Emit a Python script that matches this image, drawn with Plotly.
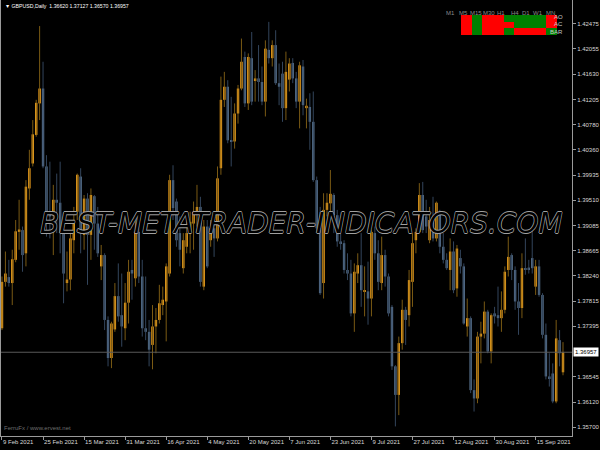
import plotly.graph_objects as go

# ---------------- data (GBPUSD daily) ----------------
open_ = [1.3736,1.3814,1.3822,1.3812,1.3851,1.3898,1.3901,1.3862,1.3971,1.4013,
         1.4061,1.4114,1.4139,1.4008,1.3929,1.3926,1.3952,1.3947,1.3896,1.3812,
         1.3818,1.3884,1.3932,1.3991,1.3893,1.3954,1.3893,1.3958,1.3912,1.3840,
         1.3859,1.3750,1.3686,1.3734,1.3790,1.3758,1.3736,1.3779,1.3834,1.3820,
         1.3898,1.3823,1.3736,1.3730,1.3708,1.3739,1.3750,1.3775,1.3781,1.3828,
         1.3985,1.3949,1.3896,1.3837,1.3873,1.3898,1.3912,1.3932,1.3940,1.3806,
         1.3907,1.3884,1.3904,1.3887,1.4005,1.4120,1.4142,1.4052,1.4050,1.4097,
         1.4139,1.4192,1.4114,1.4190,1.4153,1.4156,1.4150,1.4117,1.4204,1.4190,
         1.4212,1.4148,1.4164,1.4106,1.4154,1.4182,1.4156,1.4117,1.4176,1.4106,
         1.4108,1.4083,1.3985,1.3918,1.3812,1.3935,1.3946,1.3960,1.3926,1.3882,
         1.3879,1.3834,1.3828,1.3761,1.3828,1.3842,1.3798,1.3798,1.3786,1.3896,
         1.3862,1.3812,1.3859,1.3823,1.3772,1.3672,1.3624,1.3711,1.3767,1.3758,
         1.3814,1.3884,1.3898,1.3960,1.3924,1.3884,1.3918,1.3887,1.3932,1.3873,
         1.3851,1.3834,1.3865,1.3803,1.3854,1.3840,1.3739,1.3753,1.3632,1.3618,
         1.3722,1.3727,1.3764,1.3697,1.3761,1.3758,1.3753,1.3767,1.3834,1.3859,
         1.3834,1.3781,1.3770,1.3837,1.3838,1.3854,1.3806,1.3840,1.3792,1.3725,
         1.3655,1.3660,1.3613,1.3716,1.36620]
high = [1.3823,1.3865,1.3851,1.3868,1.3918,1.3952,1.3907,1.3985,1.4036,1.4086,
        1.4120,1.4244,1.4184,1.4027,1.4016,1.3977,1.3996,1.4016,1.3924,1.3865,
        1.3896,1.3940,1.3996,1.4005,1.3960,1.3963,1.3971,1.3960,1.3940,1.3876,
        1.3862,1.3756,1.3747,1.3812,1.3845,1.3828,1.3812,1.3851,1.3851,1.3918,
        1.3918,1.3851,1.3823,1.3750,1.3775,1.3770,1.3809,1.3806,1.3845,1.3994,
        1.4010,1.3954,1.3924,1.3896,1.3929,1.3932,1.3949,1.3977,1.3957,1.3918,
        1.3918,1.3918,1.3915,1.4008,1.4159,1.4167,1.4153,1.4125,1.4114,1.4145,
        1.4223,1.4201,1.4198,1.4234,1.4170,1.4212,1.4176,1.4220,1.4251,1.4220,
        1.4237,1.4181,1.4184,1.4201,1.4190,1.4190,1.4167,1.4184,1.4187,1.4122,
        1.4131,1.4134,1.3991,1.3940,1.3963,1.3963,1.4002,1.3963,1.3935,1.3896,
        1.3884,1.3862,1.3851,1.3845,1.3862,1.3896,1.3840,1.3848,1.3901,1.3907,
        1.3884,1.3890,1.3868,1.3828,1.3775,1.3674,1.3722,1.3784,1.3772,1.3834,
        1.3896,1.3904,1.3980,1.3982,1.3952,1.3940,1.3957,1.3949,1.3935,1.3896,
        1.3862,1.3887,1.3882,1.3876,1.3868,1.3845,1.3786,1.3756,1.3650,1.3730,
        1.3747,1.3781,1.3767,1.3761,1.3772,1.3806,1.3798,1.3840,1.3890,1.3862,
        1.3840,1.3812,1.3862,1.3887,1.3851,1.3904,1.3851,1.3851,1.3795,1.3744,
        1.3694,1.3677,1.3750,1.3733,1.37127]
low = [1.3733,1.3806,1.3806,1.3775,1.3847,1.3868,1.3831,1.3840,1.3952,1.4008,
       1.4058,1.4086,1.4005,1.3890,1.3887,1.3859,1.3896,1.3862,1.3778,1.3798,
       1.3800,1.3862,1.3918,1.3862,1.3868,1.3809,1.3851,1.3868,1.3856,1.3817,
       1.3733,1.3672,1.3669,1.3730,1.3747,1.3705,1.3716,1.3744,1.3784,1.3806,
       1.3812,1.3722,1.3716,1.3672,1.3667,1.3694,1.3744,1.3758,1.3714,1.3823,
       1.3918,1.3873,1.3840,1.3828,1.3862,1.3862,1.3868,1.3907,1.3806,1.3800,
       1.3837,1.3873,1.3856,1.3882,1.3994,1.4108,1.4047,1.4008,1.4038,1.4080,
       1.4136,1.4108,1.4103,1.4111,1.4117,1.4117,1.4111,1.4092,1.4181,1.4176,
       1.4145,1.4111,1.4083,1.4086,1.4134,1.4148,1.4106,1.4072,1.4094,1.4072,
       1.4036,1.3982,1.3896,1.3792,1.3786,1.3924,1.3918,1.3896,1.3873,1.3868,
       1.3828,1.3817,1.3756,1.3730,1.3812,1.3772,1.3756,1.3742,1.3756,1.3851,
       1.3800,1.3800,1.3806,1.3756,1.3666,1.3571,1.3590,1.3700,1.3708,1.3739,
       1.3772,1.3862,1.3896,1.3896,1.3896,1.3879,1.3882,1.3882,1.3862,1.3845,
       1.3834,1.3800,1.3795,1.3789,1.3828,1.3742,1.3722,1.3627,1.3596,1.3610,
       1.3677,1.3719,1.3694,1.3677,1.3744,1.3739,1.3730,1.3761,1.3823,1.3817,
       1.3767,1.3725,1.3753,1.3826,1.3828,1.3828,1.3792,1.3789,1.3719,1.3650,
       1.3638,1.3610,1.3610,1.3672,1.36570]
close = [1.3814,1.3828,1.3812,1.3852,1.3899,1.3902,1.3859,1.3974,1.4005,1.4062,
         1.4115,1.4139,1.4008,1.3929,1.3924,1.3952,1.3947,1.3896,1.3828,1.3818,
         1.3887,1.3918,1.3994,1.3896,1.3954,1.3893,1.3960,1.3912,1.3862,1.3859,
         1.3750,1.3686,1.3744,1.3790,1.3756,1.3739,1.3779,1.3831,1.3828,1.3898,
         1.3823,1.3736,1.3730,1.3700,1.3739,1.3750,1.3778,1.3784,1.3840,1.3985,
         1.3938,1.3884,1.3868,1.3884,1.3896,1.3915,1.3932,1.3940,1.3814,1.3907,
         1.3840,1.3904,1.3887,1.3988,1.4120,1.4142,1.4052,1.4050,1.4097,1.4139,
         1.4184,1.4114,1.4192,1.4117,1.4156,1.4150,1.4117,1.4206,1.4190,1.4212,
         1.4148,1.4142,1.4106,1.4167,1.4181,1.4156,1.4117,1.4178,1.4111,1.4110,
         1.4083,1.3985,1.3904,1.3795,1.3935,1.3947,1.3962,1.3926,1.3882,1.3879,
         1.3834,1.3828,1.3761,1.3831,1.3842,1.3800,1.3800,1.3786,1.3898,1.3862,
         1.3814,1.3859,1.3823,1.3761,1.3672,1.3624,1.3711,1.3767,1.3750,1.3817,
         1.3879,1.3898,1.3960,1.3901,1.3907,1.3918,1.3887,1.3947,1.3873,1.3851,
         1.3837,1.3865,1.3800,1.3870,1.3840,1.3744,1.3753,1.3632,1.3618,1.3722,
         1.3727,1.3764,1.3697,1.3758,1.3756,1.3753,1.3767,1.3831,1.3856,1.3834,
         1.3781,1.3770,1.3837,1.3834,1.3835,1.3837,1.3840,1.3792,1.3725,1.3655,
         1.3652,1.3613,1.3719,1.3694,1.36957]

date_labels = ["9 Feb 2021", "25 Feb 2021", "15 Mar 2021", "31 Mar 2021", "16 Apr 2021",
               "4 May 2021", "20 May 2021", "7 Jun 2021", "23 Jun 2021", "9 Jul 2021",
               "27 Jul 2021", "12 Aug 2021", "30 Aug 2021", "15 Sep 2021"]
date_label_bars = [0, 12, 24, 36, 48, 60, 72, 84, 96, 108, 120, 132, 144, 156]

price_ticks = [1.42475, 1.42055, 1.41630, 1.41205, 1.40780, 1.40360, 1.39935, 1.39510,
               1.39085, 1.38665, 1.38240, 1.37815, 1.37395, 1.36545, 1.36120, 1.35700]

tf_labels = ["M1", "M5", "M15", "M30", "H1", "H4", "D1", "W1", "MN"]
row_labels = ["AO", "AC", "BAR"]
signals = [[0, 1, 0, 0, 1, 1, 1, 1, 0],   # AO
           [0, 1, 0, 0, 0, 1, 1, 1, 0],   # AC
           [0, 1, 0, 0, 1, 0, 0, 0, 1]]   # BAR

symbol_title = "GBPUSD,Daily"
# ---------------------------------------------------------------------------

UP_BODY, DN_BODY = "#FFAA1E", "#5A7592"
UP_WICK, DN_WICK = "#7A5A14", "#33455C"
AXIS = "#9a9a9a"
TXT = "#d8d8d8"
FONT = "Liberation Sans"

n = len(close)
idx = list(range(n))
up = [close[i] >= open_[i] for i in idx]

fig = go.Figure()

# wicks
for is_up, col in ((True, UP_WICK), (False, DN_WICK)):
    xs, ys = [], []
    for i in idx:
        if up[i] == is_up:
            xs += [i, i, None]
            ys += [low[i], high[i], None]
    fig.add_trace(go.Scatter(x=xs, y=ys, mode="lines", line=dict(color=col, width=1),
                             hoverinfo="skip"))

# bodies
for is_up, col in ((True, UP_BODY), (False, DN_BODY)):
    sel = [i for i in idx if up[i] == is_up]
    fig.add_trace(go.Bar(
        x=sel,
        base=[min(open_[i], close[i]) for i in sel],
        y=[max(abs(close[i] - open_[i]), 0.00008) for i in sel],
        width=0.7, marker=dict(color=col, line=dict(width=0)),
    ))

# indicator table
fig.add_trace(go.Heatmap(
    z=signals, x=list(range(len(tf_labels))), y=list(range(len(row_labels))),
    colorscale=[[0, "#FF0000"], [1, "#008000"]], zmin=0, zmax=1, showscale=False,
    xaxis="x2", yaxis="y2", xgap=0, ygap=0,
))

last = close[-1]
fig.update_layout(
    width=600, height=450,
    margin=dict(l=1, r=28, t=0, b=14, autoexpand=False),
    paper_bgcolor="black", plot_bgcolor="black",
    showlegend=False, barmode="overlay",
    font=dict(family=FONT, size=6, color=TXT),
    xaxis=dict(range=[-0.29, 166.63], tickvals=date_label_bars, ticktext=date_labels,
               tickangle=0, automargin=False,
               ticks="outside", ticklen=3, tickcolor=AXIS, showline=True, linecolor=AXIS,
               linewidth=1, showgrid=False, zeroline=False,
               ticklabelposition="outside right", ticklabelstandoff=0,
               tickfont=dict(family=FONT, size=6, color=TXT)),
    yaxis=dict(range=[1.35549, 1.42878], side="right", tickvals=price_ticks,
               ticktext=[f"{v:.5f}" for v in price_ticks], automargin=False,
               ticks="outside", ticklen=3, tickcolor=AXIS, showline=True, mirror=True,
               linecolor=AXIS, linewidth=1, showgrid=False, zeroline=False,
               tickfont=dict(family=FONT, size=6, color=TXT)),
    xaxis2=dict(domain=[(461 - 1) / 571, (557 - 1) / 571], range=[-0.5, 8.5],
                visible=False, anchor="y2"),
    yaxis2=dict(domain=[(436 - 35) / 436, (436 - 15) / 436], range=[2.5, -0.5],
                visible=False, anchor="x2"),
)

# current price line + label
fig.add_shape(type="line", xref="paper", x0=0, x1=1, yref="y", y0=last, y1=last,
              line=dict(color="#5a5a5a", width=1))
fig.add_annotation(xref="paper", x=1, xanchor="left", xshift=1, yref="y", y=last,
                   text=f"{last:.5f}", showarrow=False, bgcolor="white",
                   font=dict(family=FONT, size=6, color="black"), borderpad=1)

# title
fig.add_annotation(xref="paper", yref="paper", x=(3 - 1) / 571, y=(436 - 6) / 436,
                   xanchor="left", yanchor="middle", showarrow=False,
                   text=f"▼ {symbol_title}  {open_[-1]:.5f} {high[-1]:.5f} {low[-1]:.5f} {close[-1]:.5f}",
                   font=dict(family=FONT, size=5.2, color="white"))
# footer
fig.add_annotation(xref="paper", yref="paper", x=(2 - 1) / 571, y=(436 - 428) / 436,
                   xanchor="left", yanchor="middle", showarrow=False,
                   text="FerruFx / www.ervest.net",
                   font=dict(family=FONT, size=6, color="#6e6e6e"))

# table labels
tf_px = [450, 463, 476, 489, 501, 515, 526, 538, 550]
for lab, px in zip(tf_labels, tf_px):
    fig.add_annotation(xref="paper", yref="paper", x=(px - 1) / 571, y=(436 - 13) / 436,
                       xanchor="center", yanchor="middle", showarrow=False, text=lab,
                       font=dict(family=FONT, size=6, color="#8c8c8c"))
for lab, py in zip(row_labels, [17, 24, 32]):
    fig.add_annotation(xref="paper", yref="paper", x=(565 - 1) / 571, y=(436 - py) / 436,
                       xanchor="right", yanchor="middle", showarrow=False, text=lab,
                       font=dict(family=FONT, size=6, color="#c8c8c8"))

# watermark
fig.add_annotation(xref="paper", yref="paper", x=(301 - 1) / 571, y=(436 - 223) / 436,
                   xanchor="center", yanchor="middle", showarrow=False,
                   text="BEST-METATRADER-INDICATORS.COM",
                   font=dict(family="DejaVu Sans", size=28, color="black", style="italic",
                             shadow="0.6px 0 0 #a0a0a0, -0.6px 0 0 #a0a0a0, 0 0.6px 0 #a0a0a0, 0 -0.6px 0 #a0a0a0"))

fig.write_html("out.html", config={"displayModeBar": False},
               post_script="document.body.style.margin='0';document.body.style.background='black';")
